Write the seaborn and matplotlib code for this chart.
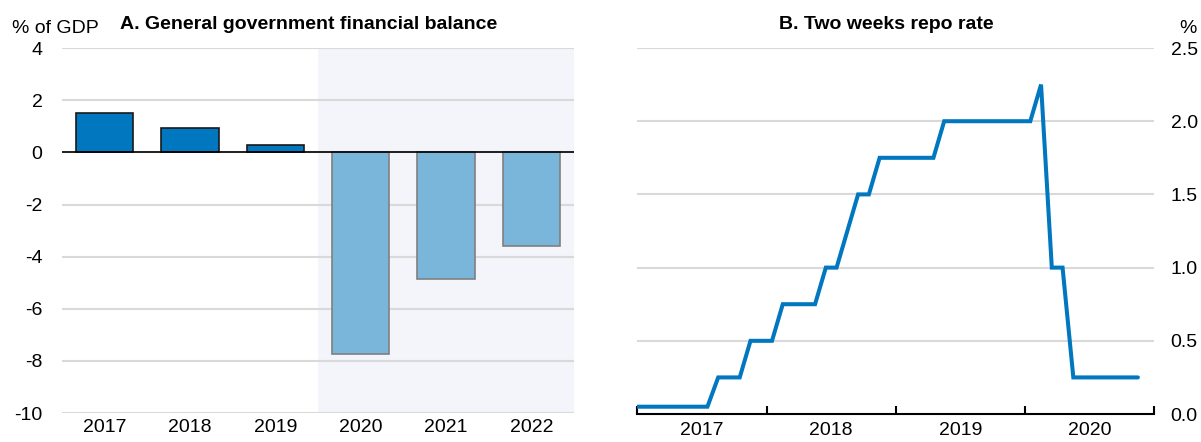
import matplotlib
matplotlib.use("Agg")
import matplotlib.pyplot as plt
from matplotlib.ticker import FixedLocator, NullFormatter
import seaborn as sns
import pandas as pd
import numpy as np

# Panel A data: general government financial balance, % of GDP
years_a = ["2017", "2018", "2019", "2020", "2021", "2022"]
balance = [1.5, 0.92, 0.27, -7.72, -4.85, -3.6]
is_projection = [False, False, False, True, True, True]

# Panel B data: two weeks repo rate, monthly, Dec 2016 - Nov 2020
month_labels = (["2016-12"]
                + [f"2017-{m:02d}" for m in range(1, 13)]
                + [f"2018-{m:02d}" for m in range(1, 13)]
                + [f"2019-{m:02d}" for m in range(1, 13)]
                + [f"2020-{m:02d}" for m in range(1, 12)])
repo_rate = ([0.05]
             + [0.05] * 7 + [0.25] * 3 + [0.5] * 2                       # 2017
             + [0.5, 0.75, 0.75, 0.75, 0.75, 1.0, 1.0, 1.25, 1.5, 1.5, 1.75, 1.75]  # 2018
             + [1.75] * 4 + [2.0] * 8                                      # 2019
             + [2.0, 2.25, 1.0, 1.0] + [0.25] * 7)                         # 2020
year_labels_b = ["2017", "2018", "2019", "2020"]

DARK = "#0077BF"
LIGHT = "#7AB5DA"
GRID = "#D9D9D9"
SHADE = "#F4F5FA"

sns.set_theme(style="white")
plt.rcParams["font.family"] = ["Liberation Sans", "DejaVu Sans"]
plt.rcParams["font.size"] = 14
plt.rcParams["axes.unicode_minus"] = False
plt.rcParams["text.color"] = "black"
plt.rcParams["xtick.color"] = "black"
plt.rcParams["ytick.color"] = "black"

fig = plt.figure(figsize=(12.01, 4.42), dpi=100)
ax_a = fig.add_axes([0.0516, 0.0656, 0.4263, 0.8253])
ax_b = fig.add_axes([0.5308, 0.0633, 0.4301, 0.8281])

# ---------- Panel A ----------
df_a = pd.DataFrame({"year": years_a, "balance": balance})
colors = [LIGHT if p else DARK for p in is_projection]
sns.barplot(data=df_a, x="year", y="balance", hue="year", palette=colors,
            legend=False, width=0.67, ax=ax_a, saturation=1, zorder=3)
for patch, proj in zip(ax_a.patches, is_projection):
    patch.set_edgecolor("#808080" if proj else "#1a1a1a")
    patch.set_linewidth(1.2)

ax_a.axvspan(2.5, 5.5, color=SHADE, zorder=0, lw=0)
ax_a.set_xlim(-0.5, 5.5)
ax_a.set_ylim(-10, 4)
ax_a.set_yticks(np.arange(-10, 5, 2))
ax_a.yaxis.grid(True, color=GRID, lw=1.5, zorder=1)
ax_a.set_axisbelow(True)
ax_a.axhline(0, color="black", lw=1.2, zorder=4)
for s in ax_a.spines.values():
    s.set_visible(False)
ax_a.tick_params(axis="both", length=0, labelsize=14, pad=4)
ax_a.tick_params(axis="y", pad=14)
ax_a.set_xlabel("")
ax_a.set_ylabel("")
ax_a.set_title("A. General government financial balance", fontsize=14,
               fontweight="bold", pad=14, x=0.481)
fig.text(0.010, 0.935, "% of GDP", fontsize=14, ha="left", va="center")

# ---------- Panel B ----------
x_b = [(int(s[:4]) - 2017) * 12 + int(s[5:]) - 1 + 0.5 for s in month_labels]
df_b = pd.DataFrame({"x": x_b, "rate": repo_rate})
sns.lineplot(data=df_b, x="x", y="rate", color=DARK, lw=2.9, ax=ax_b,
             solid_joinstyle="miter", zorder=3)
ax_b.set_xlim(0, 48)
ax_b.set_ylim(0, 2.5)
ax_b.yaxis.grid(True, color=GRID, lw=1.5, zorder=1)
ax_b.yaxis.tick_right()
ax_b.set_yticks([0.0, 0.5, 1.0, 1.5, 2.0, 2.5])
ax_b.set_yticklabels(["0.0", "0.5", "1.0", "1.5", "2.0", "2.5"])
ax_b.yaxis.get_gridlines()[0].set_visible(False)
for name, s in ax_b.spines.items():
    s.set_visible(name == "bottom")
ax_b.spines["bottom"].set_color("black")
ax_b.spines["bottom"].set_linewidth(1.5)
ax_b.xaxis.set_major_locator(FixedLocator([0, 12, 24, 36, 48]))
ax_b.xaxis.set_major_formatter(NullFormatter())
ax_b.xaxis.set_minor_locator(FixedLocator([6, 18, 30, 42]))
ax_b.set_xticklabels(year_labels_b, minor=True)
ax_b.tick_params(axis="x", which="major", direction="in", length=6,
                 width=1.5, color="black", bottom=True)
ax_b.tick_params(axis="x", which="minor", length=0, labelsize=14, pad=6)
ax_b.tick_params(axis="y", length=0, labelsize=14, pad=12)
ax_b.set_xlabel("")
ax_b.set_ylabel("")
ax_b.set_title("B. Two weeks repo rate", fontsize=14, fontweight="bold",
               pad=14, x=0.481)
fig.text(0.989, 0.935, "%", fontsize=14, ha="center", va="center")

fig.savefig("out.png", dpi=100)
